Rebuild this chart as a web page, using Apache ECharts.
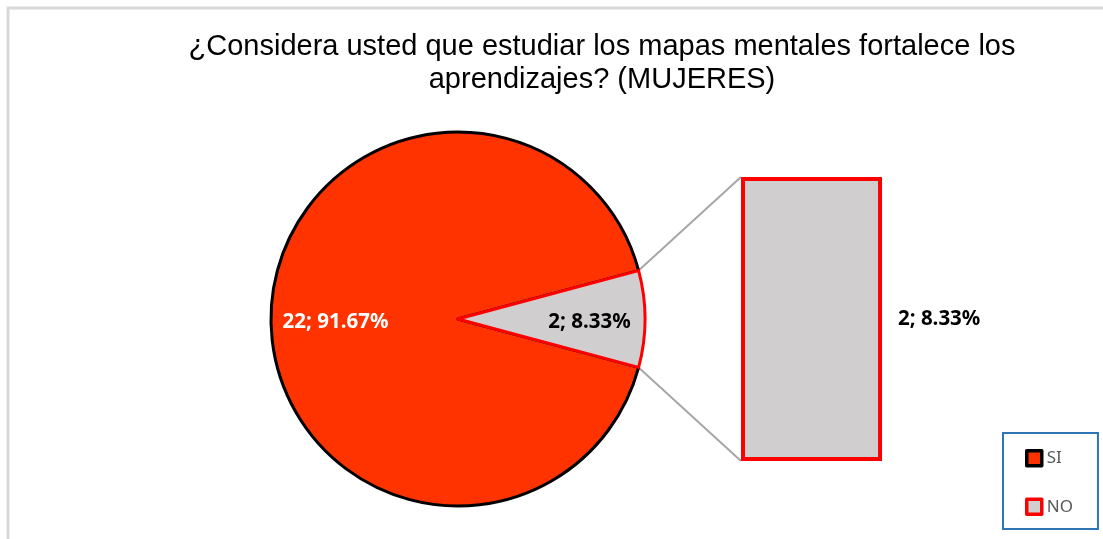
<!DOCTYPE html>
<html>
<head>
<meta charset="utf-8">
<script src="https://cdn.jsdelivr.net/npm/echarts@6/dist/echarts.min.js"></script>
<style>
  html, body { margin: 0; padding: 0; background: #fff; }
  #grafico { width: 1103px; height: 539px; }
</style>
</head>
<body>
<div id="grafico"></div>
<script>
var categorias = ['SI', 'NO'];
var cantidades = [22, 2];
var titulo = '¿Considera usted que estudiar los mapas mentales fortalece los\naprendizajes? (MUJERES)';

var colores = ['#FF3300', '#D0CECE'];
var bordes = ['#000000', '#FF0000'];

// geometria del pastel y de la barra
var centro = [458, 319];
var radio = 187;
var barra = { left: 741, top: 177, width: 141, height: 284 };

var total = cantidades[0] + cantidades[1];
function porcentaje(v) {
    return (v / total * 100).toFixed(2);
}

// el segmento NO queda centrado a la derecha
var anguloNo = cantidades[1] / total * 360;
var inicio = 360 - anguloNo / 2;
var medio = anguloNo / 2 * Math.PI / 180;
var pA = [centro[0] + radio * Math.cos(medio), centro[1] - radio * Math.sin(medio)];
var pB = [centro[0] + radio * Math.cos(medio), centro[1] + radio * Math.sin(medio)];

var datosPie = categorias.map(function (c, i) {
    return {
        name: c,
        value: cantidades[i],
        itemStyle: { color: colores[i], borderColor: bordes[i], borderWidth: 3 },
        label: {
            color: i === 0 ? '#ffffff' : '#000000',
            offset: i === 0 ? [-26, 3] : [35, 3]
        }
    };
});

var myChart = echarts.init(document.getElementById('grafico'));
var option = {
    animation: false,
    title: {
        text: titulo,
        left: 597,
        top: 25,
        textAlign: 'center',
        textStyle: {
            fontFamily: 'Liberation Sans',
            fontSize: 29,
            fontWeight: 'normal',
            color: '#000000',
            lineHeight: 33
        }
    },
    legend: {
        orient: 'vertical',
        left: 1003,
        top: 433,
        padding: [16, 25, 13, 22],
        itemGap: 30,
        itemWidth: 15,
        itemHeight: 15,
        borderColor: '#2E75B6',
        borderWidth: 2,
        icon: 'rect',
        textStyle: { color: '#595959', fontSize: 17, fontFamily: 'Noto Sans' },
        data: [
            { name: 'SI', itemStyle: { color: colores[0], borderColor: '#000', borderWidth: 3.5 } },
            { name: 'NO', itemStyle: { color: colores[1], borderColor: '#FF0000', borderWidth: 3.5 } }
        ]
    },
    grid: {
        left: barra.left,
        top: barra.top,
        width: barra.width,
        height: barra.height
    },
    xAxis: { type: 'category', data: ['NO'], show: false },
    yAxis: { type: 'value', min: 0, max: cantidades[1], show: false },
    series: [{
        type: 'pie',
        center: centro,
        radius: radio,
        startAngle: inicio,
        clockwise: true,
        data: datosPie,
        label: {
            show: true,
            position: 'inside',
            fontFamily: 'Noto Sans',
            fontWeight: 'bold',
            fontSize: 20.5,
            formatter: '{c}; {d}%'
        },
        labelLine: { show: false },
        emphasis: { disabled: true }
    }, {
        type: 'bar',
        barWidth: '100%',
        data: [cantidades[1]],
        itemStyle: { color: colores[1], borderColor: '#FF0000', borderWidth: 4 },
        label: {
            show: true,
            position: 'right',
            distance: 16,
            fontFamily: 'Noto Sans',
            fontWeight: 'bold',
            fontSize: 20.5,
            color: '#000000',
            formatter: cantidades[1] + '; ' + porcentaje(cantidades[1]) + '%'
        },
        emphasis: { disabled: true }
    }],
    graphic: [{
        type: 'polyline',
        shape: { points: [[8, 539], [8, 8], [1103, 8]] },
        style: { stroke: '#D9D9D9', lineWidth: 3, fill: null },
        silent: true
    }, {
        type: 'line',
        shape: { x1: pA[0], y1: pA[1], x2: barra.left, y2: barra.top },
        style: { stroke: '#A6A6A6', lineWidth: 2 },
        silent: true
    }, {
        type: 'line',
        shape: { x1: pB[0], y1: pB[1], x2: barra.left, y2: barra.top + barra.height },
        style: { stroke: '#A6A6A6', lineWidth: 2 },
        silent: true
    }]
};
myChart.setOption(option, true);
</script>
</body>
</html>
